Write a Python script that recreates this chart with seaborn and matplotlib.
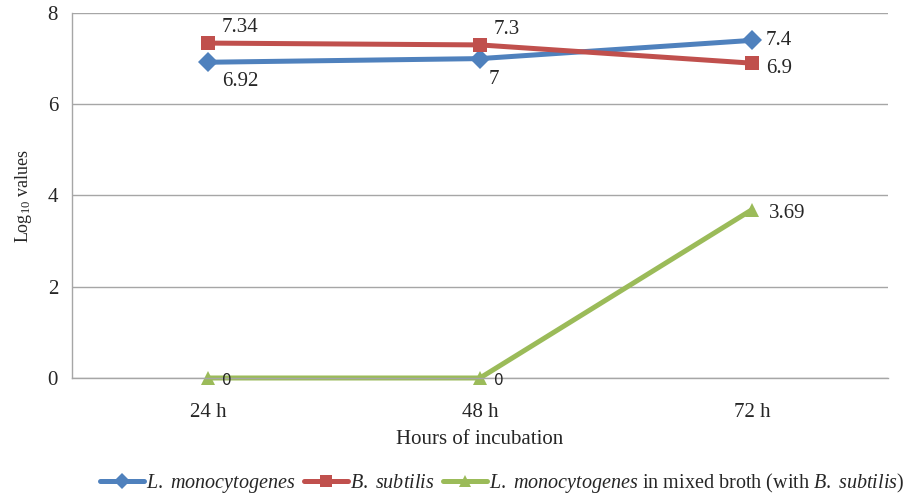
import numpy as np
import pandas as pd
import matplotlib
matplotlib.use("Agg")
import matplotlib.pyplot as plt
import seaborn as sns

# Incubation times and log10 counts for each culture
hours = ["24 h", "48 h", "72 h"]
l_mono = [6.92, 7.0, 7.4]
b_subtilis = [7.34, 7.3, 6.9]
l_mono_mixed = [0.0, 0.0, 3.69]

series_names = [
    r"$\mathit{L.\ monocytogenes}$",
    r"$\mathit{B.\ subtilis}$",
    r"$\mathit{L.\ monocytogenes}$ in mixed broth (with $\mathit{B.\ subtilis}$)",
]
series_values = [l_mono, b_subtilis, l_mono_mixed]
label_texts = [["6.92", "7", "7.4"], ["7.34", "7.3", "6.9"], ["0", "0", "3.69"]]

sns.set_style("white")
plt.rcParams["font.family"] = ["Liberation Serif", "DejaVu Serif"]
plt.rcParams["mathtext.fontset"] = "custom"
plt.rcParams["mathtext.rm"] = "Liberation Serif"
plt.rcParams["mathtext.it"] = "Liberation Serif:italic"

df = pd.DataFrame({
    "Hours": hours * 3,
    "Value": l_mono + b_subtilis + l_mono_mixed,
    "Series": np.repeat(series_names, len(hours)),
})

colors = ["#4F81BD", "#C0504D", "#9BBB59"]
markers = ["D", "s", "^"]

fig = plt.figure(figsize=(9.08, 4.99), dpi=100)
ax = fig.add_axes([0.0793, 0.2425, 0.8987, 0.7315])

sns.lineplot(
    data=df, x="Hours", y="Value", hue="Series", style="Series",
    palette=colors, markers=markers, dashes=False, linewidth=3.6,
    markersize=10, markeredgewidth=0, ax=ax, sort=False, legend="auto",
)
for line in ax.lines:
    line.set_clip_on(False)

ax.set_xlim(-0.5, 2.5)
ax.set_ylim(0, 8)
ax.set_yticks([0, 2, 4, 6, 8])
ax.set_xticks([0, 1, 2])
ax.set_xticklabels(hours)
ax.set_xticks([-0.5, 0.5, 1.5, 2.5], minor=True)
ax.tick_params(axis="x", which="major", length=0, pad=18, labelsize=15)
ax.tick_params(axis="x", which="minor", length=4, color="#A6A6A6", width=1)
ax.tick_params(axis="y", length=4, color="#A6A6A6", width=1, labelsize=15, pad=6)
ax.yaxis.grid(True, color="#A6A6A6", linewidth=1)
ax.set_axisbelow(True)
for side in ["top", "right"]:
    ax.spines[side].set_visible(False)
for side in ["left", "bottom"]:
    ax.spines[side].set_color("#A6A6A6")
    ax.spines[side].set_linewidth(1)

ax.set_xlabel("Hours of incubation", fontsize=15, labelpad=6)
ax.set_ylabel(r"Log$_{\mathregular{10}}$ values", fontsize=13, labelpad=10)

# Value labels beside each point
offsets = {
    (0, 0): (10, -14), (0, 1): (6, -15), (0, 2): (10, 0),
    (1, 0): (10, 11), (1, 1): (10, 11), (1, 2): (10, -4),
    (2, 0): (8, -2), (2, 1): (8, -2), (2, 2): (12, -3),
}
for s, vals in enumerate(series_values):
    for i, v in enumerate(vals):
        dx, dy = offsets[(s, i)]
        txt = label_texts[s][i]
        if s == 2 and v == 0:
            ax.annotate(txt, (i, v), xytext=(dx + 2, dy), textcoords="offset points",
                        ha="left", va="center", fontsize=11, family="DejaVu Sans")
        else:
            ax.annotate(txt, (i, v), xytext=(dx, dy), textcoords="offset points",
                        ha="left", va="center", fontsize=15)

handles, labels = ax.get_legend_handles_labels()
ax.legend(handles, labels, loc="center", bbox_to_anchor=(0.527, -0.287),
          ncol=3, frameon=False, fontsize=14.5, handlelength=2.2, handletextpad=0.1,
          columnspacing=0.4, markerscale=0.8)

fig.savefig("out.png", dpi=100)
